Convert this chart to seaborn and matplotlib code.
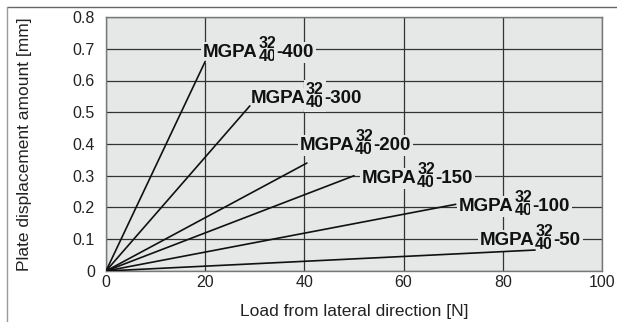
import pandas as pd
import seaborn as sns
import matplotlib.pyplot as plt
from matplotlib.lines import Line2D

# stroke per model
models = ["400", "300", "200", "150", "100", "50"]
load_end = [20, 29, 40.5, 50, 70.5, 86.5]
disp_end = [0.66, 0.52, 0.34, 0.30, 0.21, 0.066]

# label anchors: left x and text baseline y, in data units
label_x = [19.6, 29.2, 39.1, 51.6, 71.2, 75.4]
label_y = [0.674, 0.529, 0.381, 0.277, 0.189, 0.082]

xticks = [0, 20, 40, 60, 80, 100]
yticks = [0, 0.1, 0.2, 0.3, 0.4, 0.5, 0.6, 0.7, 0.8]
bg = "#e6e7e7"

sns.set_style("white")
plt.rcParams["font.family"] = ["Liberation Sans", "DejaVu Sans"]

rows = []
for m, x1, y1 in zip(models, load_end, disp_end):
    rows.append({"model": m, "load": 0, "disp": 0})
    rows.append({"model": m, "load": x1, "disp": y1})
df = pd.DataFrame(rows)

fig = plt.figure(figsize=(6.17, 3.22), dpi=100)
ax = fig.add_axes([0.1718, 0.1584, 0.8039, 0.7888])
ax.set_facecolor(bg)

sns.lineplot(data=df, x="load", y="disp", units="model", estimator=None,
             color="#111111", linewidth=1.2, ax=ax, legend=False, zorder=5)

ax.set_xlim(0, 100)
ax.set_ylim(0, 0.8)
ax.set_xticks(xticks)
ax.set_yticks(yticks)
ax.set_xticklabels([str(t) for t in xticks])
ax.set_yticklabels(["0"] + [f"{t:.1f}" for t in yticks[1:]])
ax.grid(True, color="#333333", linewidth=0.9)
ax.set_axisbelow(True)
for s in ax.spines.values():
    s.set_color("#777777")
    s.set_linewidth(1.0)
ax.tick_params(axis="y", length=0, labelsize=11.5, colors="#222222", pad=8)
ax.tick_params(axis="x", length=0, labelsize=11.5, colors="#222222", pad=3)

# label: MGPA + stacked 32/40 + -size
box = dict(boxstyle="square,pad=0.12", fc=bg, ec="none")
for m, lx, ly in zip(models, label_x, label_y):
    t1 = ax.text(lx, ly, "MGPA", fontsize=13.5, fontweight="bold", va="baseline",
                 ha="left", color="#111111", zorder=4, bbox=box)
    t2 = ax.annotate("32\n40", xy=(1, ly), xycoords=(t1, "data"), xytext=(0.3, 5.0),
                     textcoords="offset points", fontsize=11.5, fontweight="bold",
                     linespacing=0.86, va="center", ha="left", color="#111111",
                     zorder=4, bbox=box)
    ax.annotate("-" + m, xy=(1, ly), xycoords=(t2, "data"), xytext=(0.3, 0),
                textcoords="offset points", fontsize=13.5, fontweight="bold",
                va="baseline", ha="left", color="#111111", zorder=4, bbox=box)

ax.set_xlabel("Load from lateral direction [N]", fontsize=12.5, color="#222222")
ax.set_ylabel("Plate displacement amount [mm]", fontsize=12.5, color="#222222")
ax.xaxis.set_label_coords(0.5, -0.13)
ax.yaxis.set_label_coords(-0.15, 0.5)

# page frame around the figure
fig.add_artist(Line2D([0.012, 1.0], [0.978, 0.978], color="#666666", linewidth=1.0))
fig.add_artist(Line2D([0.012, 0.012], [0.0, 0.978], color="#999999", linewidth=1.0))

fig.savefig("out.png", dpi=100)
